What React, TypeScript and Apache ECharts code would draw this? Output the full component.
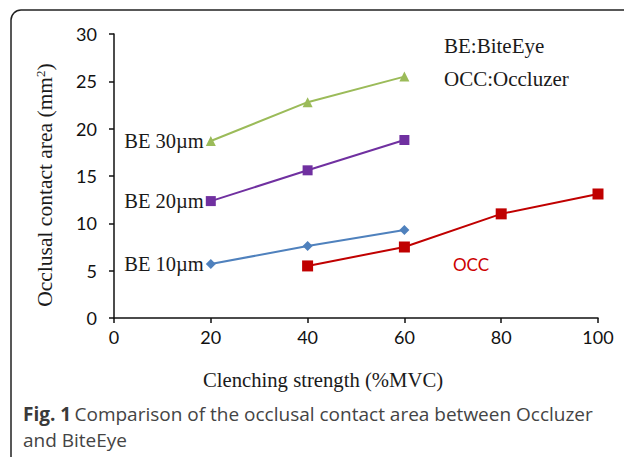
import React, { useEffect, useRef } from "react";
import * as echarts from "echarts";

const xTicks = [0, 20, 40, 60, 80, 100];
const be30 = [[20, 18.7], [40, 22.8], [60, 25.5]];
const be20 = [[20, 12.35], [40, 15.6], [60, 18.8]];
const be10 = [[20, 5.7], [40, 7.6], [60, 9.3]];
const occ = [[40, 5.5], [60, 7.5], [80, 11.0], [100, 13.1]];
const seriesNames = ["BE 30µm", "BE 20µm", "BE 10µm", "OCC"];

const serif = "Liberation Serif";
const sans = "Lato";

function withFirstLabel(data: number[][], text: string) {
  return data.map((d, i) =>
    i === 0
      ? {
          value: d,
          label: {
            show: true,
            position: "left",
            distance: 2,
            formatter: text,
            fontFamily: serif,
            fontSize: 20.5,
            color: "#1a1a1a",
          },
        }
      : { value: d }
  );
}

export default function App() {
  const ref = useRef<HTMLDivElement>(null);
  useEffect(() => {
    const chart = echarts.init(ref.current!, null, { renderer: "svg" });
    const axisLine = { show: true, lineStyle: { color: "#111", width: 1.5 } };
    chart.setOption({
      animation: false,
      backgroundColor: "#fff",
      grid: { left: 114, right: 26, top: 34, bottom: 139, containLabel: false },
      xAxis: {
        type: "value",
        min: 0,
        max: 100,
        interval: 20,
        axisLine: { ...axisLine, onZero: false },
        axisTick: { show: true, inside: false, length: 5, lineStyle: { color: "#111", width: 1.5 } },
        splitLine: { show: false },
        axisLabel: {
          fontFamily: sans,
          fontSize: 18,
          color: "#111",
          margin: 10,
          formatter: (v: number) => (xTicks.includes(v) ? String(v) : ""),
        },
      },
      yAxis: {
        type: "value",
        min: 0,
        max: 30,
        interval: 5,
        axisLine,
        axisTick: { show: true, inside: false, length: 5, lineStyle: { color: "#111", width: 1.5 } },
        splitLine: { show: false },
        axisLabel: { fontFamily: sans, fontSize: 18, color: "#111", margin: 17 },
      },
      series: [
        {
          name: seriesNames[0],
          type: "line",
          data: withFirstLabel(be30, seriesNames[0]),
          symbol: "triangle",
          symbolSize: 10,
          lineStyle: { color: "#9BBB59", width: 2 },
          itemStyle: { color: "#9BBB59" },
        },
        {
          name: seriesNames[1],
          type: "line",
          data: withFirstLabel(be20, seriesNames[1]),
          symbol: "rect",
          symbolSize: 10,
          lineStyle: { color: "#7030A0", width: 2 },
          itemStyle: { color: "#7030A0" },
        },
        {
          name: seriesNames[2],
          type: "line",
          data: withFirstLabel(be10, seriesNames[2]),
          symbol: "diamond",
          symbolSize: 10,
          lineStyle: { color: "#4F81BD", width: 2 },
          itemStyle: { color: "#4F81BD" },
        },
        {
          name: seriesNames[3],
          type: "line",
          data: occ,
          symbol: "rect",
          symbolSize: 11,
          lineStyle: { color: "#C00000", width: 2 },
          itemStyle: { color: "#C00000" },
        },
      ],
      graphic: [
        {
          type: "rect",
          shape: { x: 11, y: 10, width: 700, height: 520, r: 10 },
          style: { fill: "none", stroke: "#222", lineWidth: 1.5 },
          silent: true,
        },
        {
          type: "text",
          x: 45,
          y: 185,
          rotation: Math.PI / 2,
          style: {
            text: "Occlusal contact area (mm{sup|2})",
            fontFamily: serif,
            fontSize: 21.5,
            fill: "#1a1a1a",
            align: "center",
            verticalAlign: "middle",
            rich: {
              sup: { fontFamily: serif, fontSize: 13, verticalAlign: "top", padding: [0, 0, 9, 0], fill: "#1a1a1a" },
            },
          },
        },
        {
          type: "text",
          x: 323,
          y: 380,
          style: {
            text: "Clenching strength (%MVC)",
            fontFamily: serif,
            fontSize: 20.7,
            fill: "#1a1a1a",
            align: "center",
            verticalAlign: "middle",
          },
        },
        {
          type: "text",
          x: 444,
          y: 46,
          style: { text: "BE:BiteEye", fontFamily: serif, fontSize: 21, fill: "#1a1a1a", verticalAlign: "middle" },
        },
        {
          type: "text",
          x: 444,
          y: 79,
          style: { text: "OCC:Occluzer", fontFamily: serif, fontSize: 21, fill: "#1a1a1a", verticalAlign: "middle" },
        },
        {
          type: "text",
          x: 471,
          y: 264,
          style: { text: "OCC", fontFamily: sans, fontSize: 17, fill: "#CC0000", align: "center", verticalAlign: "middle" },
        },
        {
          type: "text",
          x: 23,
          y: 414,
          style: {
            text: "{b|Fig. 1} {n|Comparison of the occlusal contact area between Occluzer}",
            verticalAlign: "middle",
            rich: {
              b: { fontFamily: "Open Sans", fontWeight: "bold", fontSize: 19, fill: "#3a3a3a" },
              n: { fontFamily: "Open Sans", fontSize: 19, fill: "#444" },
            },
          },
        },
        {
          type: "text",
          x: 23,
          y: 440,
          style: { text: "and BiteEye", fontFamily: "Open Sans", fontSize: 19, fill: "#444", verticalAlign: "middle" },
        },
      ],
    });
    return () => chart.dispose();
  }, []);
  return (
    <div
      ref={ref}
      style={{ position: "fixed", left: 0, top: 0, width: 624, height: 457 }}
    />
  );
}
